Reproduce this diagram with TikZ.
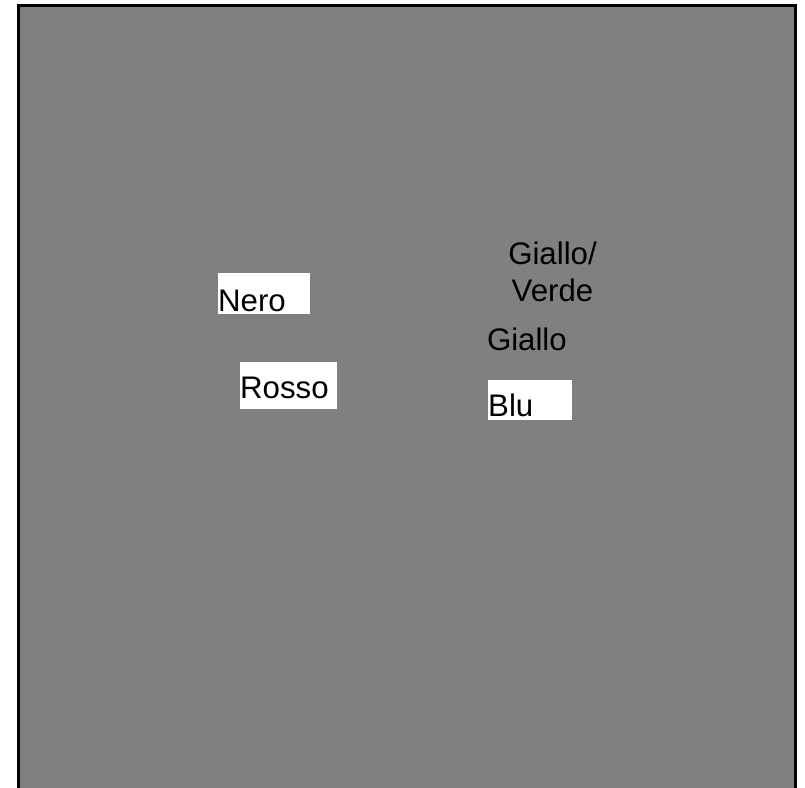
\documentclass[tikz,border=0pt]{standalone}
\usepackage{fontspec}
\setmainfont{Liberation Sans}
\usepackage{tikz}
\definecolor{panelgray}{HTML}{808080}

\begin{document}
\begin{tikzpicture}[
  x=1pt, y=-1pt,
  tag/.style={fill=white, inner sep=0pt, align=left, anchor=south west, font=\fontsize{31.2}{37.4}\selectfont},
  lbl/.style={inner sep=0pt, font=\fontsize{31.2}{37.4}\selectfont}
]
\useasboundingbox (0,0) rectangle (805,787);
% panel
\draw[line width=3pt, fill=panelgray] (18.5,5.5) rectangle (795.5,800);
% wire labels, white tags
\node[tag, text width=92pt, text height=38.7pt, text depth=2pt] (nero) at (218,313.7) {Nero};
\node[tag, text width=97pt, text height=36.7pt, text depth=10pt] (rosso) at (240,408.7) {Rosso};
\node[tag, text width=84pt, text height=36.7pt, text depth=3.3pt] (blu) at (488,420) {Blu};
% wire labels, plain
\node[lbl, align=center, anchor=north] (gialloverde) at (552.5,241.5) {Giallo/\\Verde};
\node[lbl, anchor=base west] (giallo) at (486.8,350.7) {Giallo};
\end{tikzpicture}
\end{document}
